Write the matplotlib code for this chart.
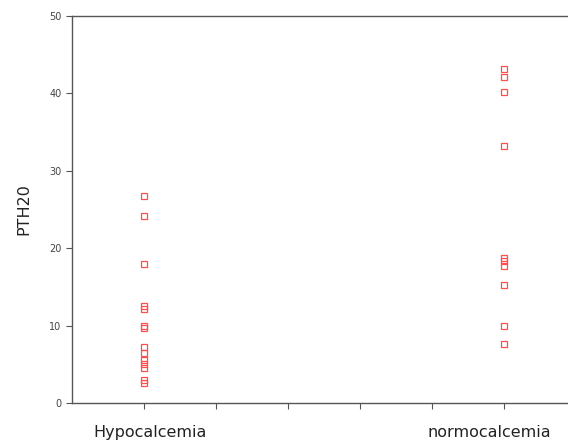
import numpy as np
import matplotlib.pyplot as plt
from matplotlib.transforms import ScaledTranslation

plt.rcParams['font.family'] = ['DejaVu Sans']

groups = ["Hypocalcemia", "normocalcemia"]
group_pos = [1, 6]
hypo = [26.7, 24.2, 17.9, 12.5, 12.2, 10.0, 9.7, 7.2, 6.4, 5.6, 5.0, 4.5, 3.0, 2.6]
normo = [43.2, 42.1, 40.2, 33.2, 18.8, 18.3, 17.7, 15.2, 9.9, 7.6]

fig = plt.figure(figsize=(5.68, 4.44), dpi=100)
ax = fig.add_axes([0.1268, 0.0923, 0.8732, 0.8716])

for pos, vals in zip(group_pos, [hypo, normo]):
    ax.plot([pos] * len(vals), vals, linestyle="none", marker="s", markersize=4.5,
            markerfacecolor="none", markeredgecolor="#ff4d4d", markeredgewidth=0.9)

ax.set_xlim(0, 6.89)
ax.set_ylim(0, 50)
ax.set_yticks([0, 10, 20, 30, 40, 50])
ax.set_xticks([1, 2, 3, 4, 5, 6])
ax.set_xticklabels([groups[0], "", "", "", "", groups[1]])
ax.spines["right"].set_visible(False)
for s in ["left", "bottom", "top"]:
    ax.spines[s].set_color("#555555")
    ax.spines[s].set_linewidth(1.0)
ax.tick_params(axis="y", colors="#555555", labelcolor="#444444", labelsize=7, length=4, width=0.8)
ax.tick_params(axis="x", colors="#555555", labelcolor="#222222", labelsize=11.5, length=4, width=0.8, pad=12)
ax.set_ylabel("PTH20", fontsize=11.5, color="#222222", labelpad=13)

# labels sit a little off their ticks in the reference
labels = ax.get_xticklabels()
labels[0].set_transform(labels[0].get_transform() + ScaledTranslation(0.06, 0, fig.dpi_scale_trans))
labels[5].set_transform(labels[5].get_transform() + ScaledTranslation(-0.15, 0, fig.dpi_scale_trans))

fig.savefig("out.png", dpi=100)
